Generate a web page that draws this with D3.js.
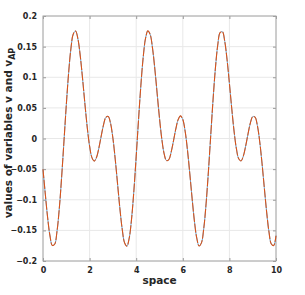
<!DOCTYPE html>
<html>
<head>
<meta charset="utf-8">
<script src="https://cdn.jsdelivr.net/npm/d3@7"></script>
<style>
  html, body { margin: 0; padding: 0; background: #fff; }
  svg { display: block; }
</style>
</head>
<body>
<svg id="chart" width="305" height="295"></svg>
<script>
// Data (x from 0 to 10 in steps of 0.1)
const xStart = 0, xStep = 0.1;
const v = [
  -0.0503,-0.0912,-0.1296,-0.1591,-0.1746,-0.1726,-0.1519,-0.1140,-0.0629,-0.0043,
   0.0547, 0.1073, 0.1474, 0.1707, 0.1755, 0.1623, 0.1345, 0.0970, 0.0560, 0.0178,
  -0.0125,-0.0312,-0.0369,-0.0305,-0.0152, 0.0044, 0.0227, 0.0346, 0.0360, 0.0246,
   0.0005,-0.0339,-0.0741,-0.1143,-0.1482,-0.1701,-0.1757,-0.1627,-0.1316,-0.0854,
  -0.0291, 0.0306, 0.0866, 0.1325, 0.1633, 0.1757, 0.1698, 0.1476, 0.1134, 0.0731,
   0.0330,-0.0012,-0.0250,-0.0361,-0.0344,-0.0223,-0.0039, 0.0156, 0.0308, 0.0369,
   0.0309, 0.0120,-0.0187,-0.0571,-0.0980,-0.1353,-0.1628,-0.1756,-0.1704,-0.1466,
  -0.1062,-0.0534, 0.0058, 0.0642, 0.1150, 0.1526, 0.1728, 0.1744, 0.1586, 0.1287,
   0.0902, 0.0493, 0.0120,-0.0165,-0.0331,-0.0366,-0.0284,-0.0120, 0.0077, 0.0253,
   0.0357, 0.0350, 0.0214,-0.0047,-0.0404,-0.0810,-0.1206,-0.1529,-0.1723,-0.1748,
  -0.1587
];
const vAP = [
  -0.0503,-0.0912,-0.1296,-0.1591,-0.1746,-0.1726,-0.1519,-0.1140,-0.0629,-0.0043,
   0.0547, 0.1073, 0.1474, 0.1707, 0.1755, 0.1623, 0.1345, 0.0970, 0.0560, 0.0178,
  -0.0125,-0.0312,-0.0369,-0.0305,-0.0152, 0.0044, 0.0227, 0.0346, 0.0360, 0.0246,
   0.0005,-0.0339,-0.0741,-0.1143,-0.1482,-0.1701,-0.1757,-0.1627,-0.1316,-0.0854,
  -0.0291, 0.0306, 0.0866, 0.1325, 0.1633, 0.1757, 0.1698, 0.1476, 0.1134, 0.0731,
   0.0330,-0.0012,-0.0250,-0.0361,-0.0344,-0.0223,-0.0039, 0.0156, 0.0308, 0.0369,
   0.0309, 0.0120,-0.0187,-0.0571,-0.0980,-0.1353,-0.1628,-0.1756,-0.1704,-0.1466,
  -0.1062,-0.0534, 0.0058, 0.0642, 0.1150, 0.1526, 0.1728, 0.1744, 0.1586, 0.1287,
   0.0902, 0.0493, 0.0120,-0.0165,-0.0331,-0.0366,-0.0284,-0.0120, 0.0077, 0.0253,
   0.0357, 0.0350, 0.0214,-0.0047,-0.0404,-0.0810,-0.1206,-0.1529,-0.1723,-0.1748,
  -0.1587
];
const xTicks = [0, 2, 4, 6, 8, 10];
const yTicks = [-0.2, -0.15, -0.1, -0.05, 0, 0.05, 0.1, 0.15, 0.2];
const xLabel = "space";
const yLabelMain = "values of variables v and v";
const yLabelSub = "AP";

const W = 305, H = 295;
const m = {left: 43, right: 29, top: 16, bottom: 34};
const iw = W - m.left - m.right, ih = H - m.top - m.bottom;

const svg = d3.select("#chart");
const g = svg.append("g").attr("transform", `translate(${m.left},${m.top})`);

const x = d3.scaleLinear().domain([0, 10]).range([0, iw]);
const y = d3.scaleLinear().domain([-0.2, 0.2]).range([ih, 0]);

// grid
g.append("g").selectAll("line").data(xTicks).join("line")
  .attr("x1", d => x(d)).attr("x2", d => x(d)).attr("y1", 0).attr("y2", ih)
  .attr("stroke", "#e8e8e8").attr("stroke-width", 1);
g.append("g").selectAll("line").data(yTicks).join("line")
  .attr("y1", d => y(d)).attr("y2", d => y(d)).attr("x1", 0).attr("x2", iw)
  .attr("stroke", "#e8e8e8").attr("stroke-width", 1);

const fmtY = d => d3.format("")(+d.toFixed(2));

const axStyle = sel => {
  sel.select(".domain").remove();
  sel.selectAll(".tick line").attr("stroke", "#999");
  sel.selectAll(".tick text").attr("fill", "#262626")
    .style("font-family", "DejaVu Sans, sans-serif")
    .style("font-weight", "bold").style("font-size", "8px");
};

g.append("g").attr("transform", `translate(0,${ih})`)
  .call(d3.axisBottom(x).tickValues(xTicks).tickSize(-3).tickPadding(6).tickFormat(d3.format("d")))
  .call(axStyle);
g.append("g")
  .call(d3.axisLeft(y).tickValues(yTicks).tickSize(-3).tickPadding(6).tickFormat(fmtY))
  .call(axStyle);
g.append("g")
  .call(d3.axisTop(x).tickValues(xTicks).tickSize(-3).tickFormat(""))
  .call(axStyle);
g.append("g").attr("transform", `translate(${iw},0)`)
  .call(d3.axisRight(y).tickValues(yTicks).tickSize(-3).tickFormat(""))
  .call(axStyle);

// box
g.append("rect").attr("x", 0).attr("y", 0).attr("width", iw).attr("height", ih)
  .attr("fill", "none").attr("stroke", "#a6a6a6").attr("stroke-width", 1);

// lines
const line = d3.line()
  .x((d, i) => x(xStart + i * xStep))
  .y(d => y(d))
  .curve(d3.curveCatmullRom.alpha(0.5));

g.append("path").datum(v).attr("d", line)
  .attr("fill", "none").attr("stroke", "#5fa8dc").attr("stroke-width", 1);
g.append("path").datum(vAP).attr("d", line)
  .attr("fill", "none").attr("stroke", "#D95319").attr("stroke-width", 1.1)
  .attr("stroke-dasharray", "9,1.5");

// labels
svg.append("text").attr("x", m.left + iw / 2).attr("y", 284)
  .attr("text-anchor", "middle").attr("fill", "#262626")
  .style("font-family", "DejaVu Sans, sans-serif").style("font-weight", "bold")
  .style("font-size", "10.5px").text(xLabel);

const yl = svg.append("text")
  .attr("text-anchor", "start").attr("fill", "#262626")
  .style("font-family", "DejaVu Sans, sans-serif").style("font-weight", "bold")
  .style("font-size", "10.5px");
yl.append("tspan").text(yLabelMain);
yl.append("tspan").attr("dy", 3).style("font-size", "8px").text(yLabelSub);
const len = yl.node().getBBox().width;
const cy = 133;
yl.attr("transform", `translate(12,${cy + len / 2}) rotate(-90)`);
</script>
</body>
</html>
